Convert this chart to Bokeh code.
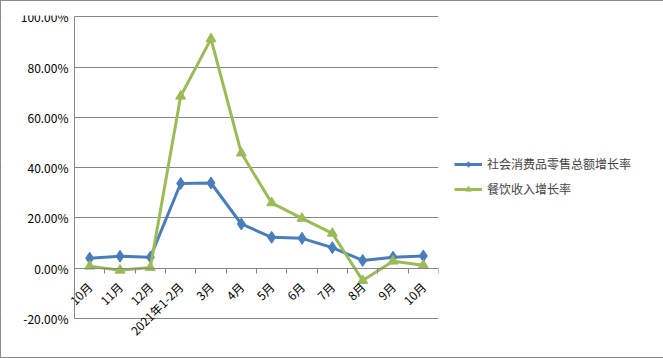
from bokeh.plotting import figure
from bokeh.models import (Range1d, LinearAxis, FixedTicker, BoxAnnotation,
                          PrintfTickFormatter, Legend, LegendItem, ColumnDataSource)
from bokeh.embed import file_html
from bokeh.resources import INLINE
import math

categories = ["10月", "11月", "12月", "2021年1-2月", "3月", "4月", "5月", "6月", "7月", "8月", "9月", "10月"]
retail_growth = [4.0, 4.8, 4.4, 33.7, 33.9, 17.6, 12.3, 11.9, 8.2, 3.1, 4.4, 4.9]
catering_growth = [0.8, -0.8, 0.3, 68.4, 91.2, 45.8, 26.0, 19.8, 13.9, -4.9, 2.8, 1.2]
y_ticks = [-20, 0, 20, 40, 60, 80, 100]
series_names = ["社会消费品零售总额增长率", "餐饮收入增长率"]

FONT = "Noto Sans CJK SC"
BLUE = "#4A7EBB"
GREEN = "#9BBB59"
GRID = "#868686"

n = len(categories)
xpos = [i + 0.5 for i in range(n)]

# layout: plot area 364 px wide, with 73 px of room on its left for the y labels
PLOT_W = 364
LEFT_PAD = 73
x_start = -n * LEFT_PAD / PLOT_W

# the frame extends beyond the plot area so that axis labels are not clipped
p = figure(frame_width=PLOT_W + LEFT_PAD, frame_height=337,
           x_range=Range1d(x_start, n), y_range=Range1d(-33.5, 100.5),
           output_backend="svg", toolbar_location=None, x_axis_location=None, y_axis_location=None,
           min_border_left=0, min_border_top=14, min_border_bottom=5, min_border_right=224)
p.outline_line_color = None
p.xgrid.grid_line_color = None
p.ygrid.ticker = FixedTicker(ticks=y_ticks)
p.ygrid.bounds = (-25, 105)
p.ygrid.grid_line_color = GRID
p.ygrid.grid_line_width = 1

# hide the grid lines left of the plot area
p.add_layout(BoxAnnotation(right=0, fill_color="white", fill_alpha=1, line_color=None, level="underlay"))

# y axis at x = 0
yax = LinearAxis(ticker=FixedTicker(ticks=y_ticks), formatter=PrintfTickFormatter(format="%.2f%%"),
                 bounds=(-20, 100), fixed_location=0)
yax.axis_line_color = GRID
yax.major_tick_out = 0
yax.major_tick_in = 0
yax.minor_tick_out = 0
yax.major_label_text_font = FONT
yax.major_label_text_font_size = "12px"
yax.major_label_text_color = "#000000"
yax.major_label_standoff = 6
p.add_layout(yax, "left")

# category axis at y = 0, tick marks at category boundaries (minor ticks)
xax = LinearAxis(ticker=FixedTicker(ticks=xpos, minor_ticks=list(range(n + 1))), fixed_location=0,
                 bounds=(0, n), major_label_overrides={x: c for x, c in zip(xpos, categories)})
xax.axis_line_color = GRID
xax.major_tick_out = 0
xax.major_tick_in = 0
xax.minor_tick_out = 5
xax.minor_tick_in = 0
xax.minor_tick_line_color = GRID
xax.major_label_orientation = math.pi / 4
xax.major_label_text_font = FONT
xax.major_label_text_font_size = "12px"
xax.major_label_text_color = "#000000"
xax.major_label_standoff = 11
p.add_layout(xax, "below")

src = ColumnDataSource(dict(x=xpos, a=retail_growth, b=catering_growth))
l1 = p.line("x", "a", source=src, line_color=BLUE, line_width=3)
m1 = p.scatter("x", "a", source=src, marker="diamond", size=12, fill_color=BLUE, line_color=BLUE)
l2 = p.line("x", "b", source=src, line_color=GREEN, line_width=3)
m2 = p.scatter("x", "b", source=src, marker="triangle", size=10, fill_color=GREEN, line_color=GREEN)

legend = Legend(items=[LegendItem(label=series_names[0], renderers=[l1, m1]),
                       LegendItem(label=series_names[1], renderers=[l2, m2])],
                location=(16, 155), border_line_color=None, background_fill_alpha=0,
                label_text_font=FONT, label_text_font_size="12px", glyph_width=28, glyph_height=14,
                spacing=8, padding=4, margin=0)
p.add_layout(legend, "right")

p.styles = {"border": "1px solid #8c8c8c"}

open("out.html", "w").write(file_html(p, INLINE))
